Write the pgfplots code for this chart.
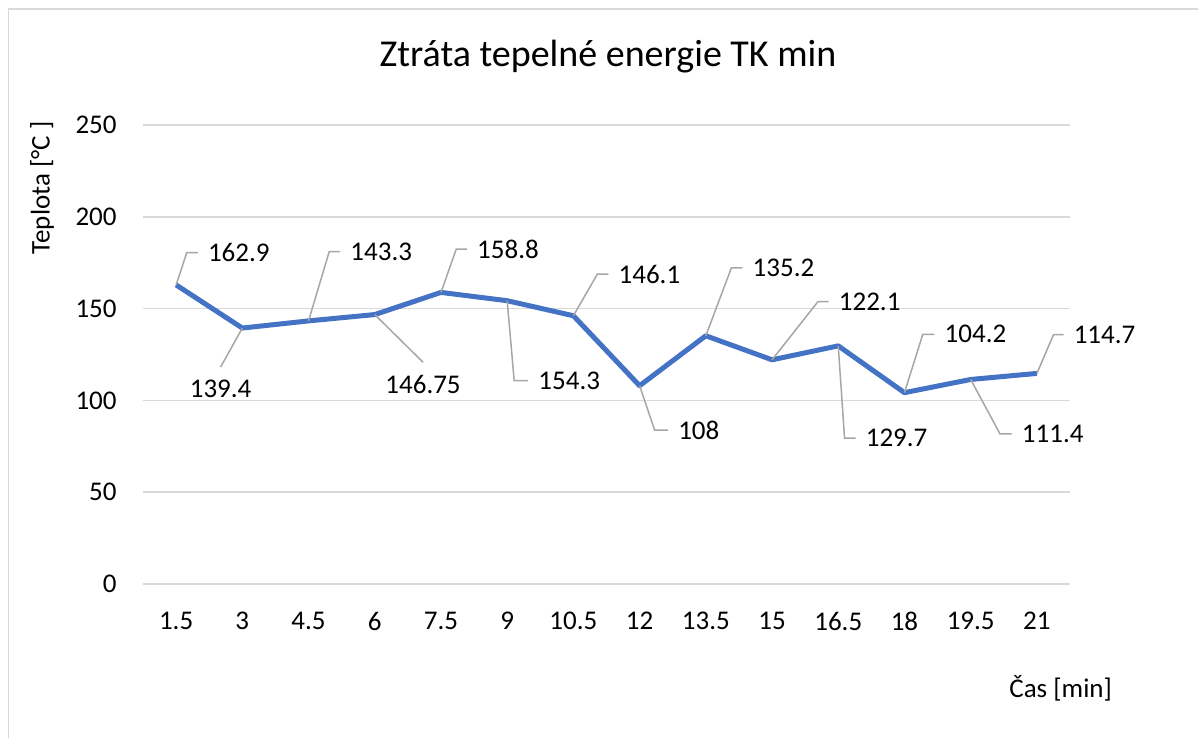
\documentclass[border=0pt]{standalone}
\usepackage{fontspec}
\setmainfont{Carlito}
\usepackage{pgfplots}
\usepackage{pgfplotstable}
\pgfplotsset{compat=1.18}
\pgfkeys{/pgf/number format/assume math mode=true}
\definecolor{lineblue}{RGB}{68,114,196}
\definecolor{gridgray}{RGB}{217,217,217}
\definecolor{leadgray}{RGB}{166,166,166}
\definecolor{framegray}{RGB}{217,217,217}
\pgfplotstableread{
x y
0 162.9
1 139.4
2 143.3
3 146.75
4 158.8
5 154.3
6 146.1
7 108
8 135.2
9 122.1
10 129.7
11 104.2
12 111.4
13 114.7
}\data
\pgfplotstableread{
x y offx offy hlen
0 162.9 5.35 16.15 5.5
2 143.3 10.35 34.65 5.5
4 158.8 7.65 21.7 5.35
5 154.3 3.5 -40 7
6 146.1 12 20.85 5.5
7 108 7.5 -22.15 6.7
8 135.2 12.8 34 5.5
9 122.1 23 29.15 5.3
10 129.7 3.15 -46.15 5.5
11 104.2 9.15 29.2 5.85
12 111.4 14.65 -27.2 5.85
13 114.7 8.3 19.35 5
}\labright
\pgfplotstableread{
x y offx offy
1 139.4 -10.85 -19.5
3 146.75 24.15 -23.85
}\labbelow
\newcommand{\lf}{\fontsize{13.5}{16}\selectfont}
\begin{document}
\begin{tikzpicture}
\path[use as bounding box] (0,0) rectangle (599pt,369pt);
\draw[framegray, line width=0.75pt] (4.25pt,0) -- (4.25pt,364.5pt) -- (599pt,364.5pt);
\begin{axis}[
  at={(71.5pt,77pt)}, anchor=south west,
  scale only axis, width=463.5pt, height=229.5pt,
  xmin=-0.5, xmax=13.5, ymin=0, ymax=250,
  ytick={0,50,100,150,200,250},
  xtick={0,...,13},
  xticklabels={1.5,3,4.5,6,7.5,9,10.5,12,13.5,15,16.5,18,19.5,21},
  ymajorgrids, major grid style={gridgray, line width=0.75pt},
  axis line style={draw=none},
  major tick length=0pt,
  tick style={draw=none},
  yticklabel style={font=\lf, inner sep=0pt, anchor=east, xshift=-13pt},
  xticklabel style={font=\lf, inner sep=0pt, anchor=north, yshift=-14pt},
  clip=false,
]
\addplot[lineblue, line width=2.5pt, line join=round, mark=none] table[x=x,y=y]{\data};
\addplot[scatter, only marks, mark=*, mark size=0pt,
  visualization depends on={\thisrow{offx}\as\myoffx},
  visualization depends on={\thisrow{offy}\as\myoffy},
  visualization depends on={\thisrow{hlen}\as\myhlen},
  visualization depends on={\thisrow{y}\as\myval},
  scatter/@pre marker code/.code={%
      \draw[draw=leadgray, line width=0.75pt] (0pt,0pt) -- (\myoffx pt,\myoffy pt) -- ++(\myhlen pt,0pt)
        node[anchor=west, inner sep=0pt, xshift=4.75pt, text=black, font=\lf] {\pgfmathprintnumber[precision=2]{\myval}};
  },
  scatter/@post marker code/.code={},
] table[x=x,y=y]{\labright};
\addplot[scatter, only marks, mark=*, mark size=0pt,
  visualization depends on={\thisrow{offx}\as\myoffx},
  visualization depends on={\thisrow{offy}\as\myoffy},
  visualization depends on={\thisrow{y}\as\myval},
  scatter/@pre marker code/.code={%
      \draw[draw=leadgray, line width=0.75pt] (0pt,0pt) -- (\myoffx pt,\myoffy pt)
        node[anchor=north, inner sep=0pt, yshift=-6pt, text=black, font=\lf] {\pgfmathprintnumber[precision=2]{\myval}};
  },
  scatter/@post marker code/.code={},
] table[x=x,y=y]{\labbelow};
\end{axis}
\node[anchor=base, font=\fontsize{19}{22}\selectfont] at (304pt,335.6pt) {Ztráta tepelné energie TK min};
\node[rotate=90, font=\lf] at (21pt,275pt) {Teplota [°C ]};
\node[anchor=west, inner sep=0pt, font=\lf] at (504.5pt,25pt) {Čas [min]};
\end{tikzpicture}
\end{document}
